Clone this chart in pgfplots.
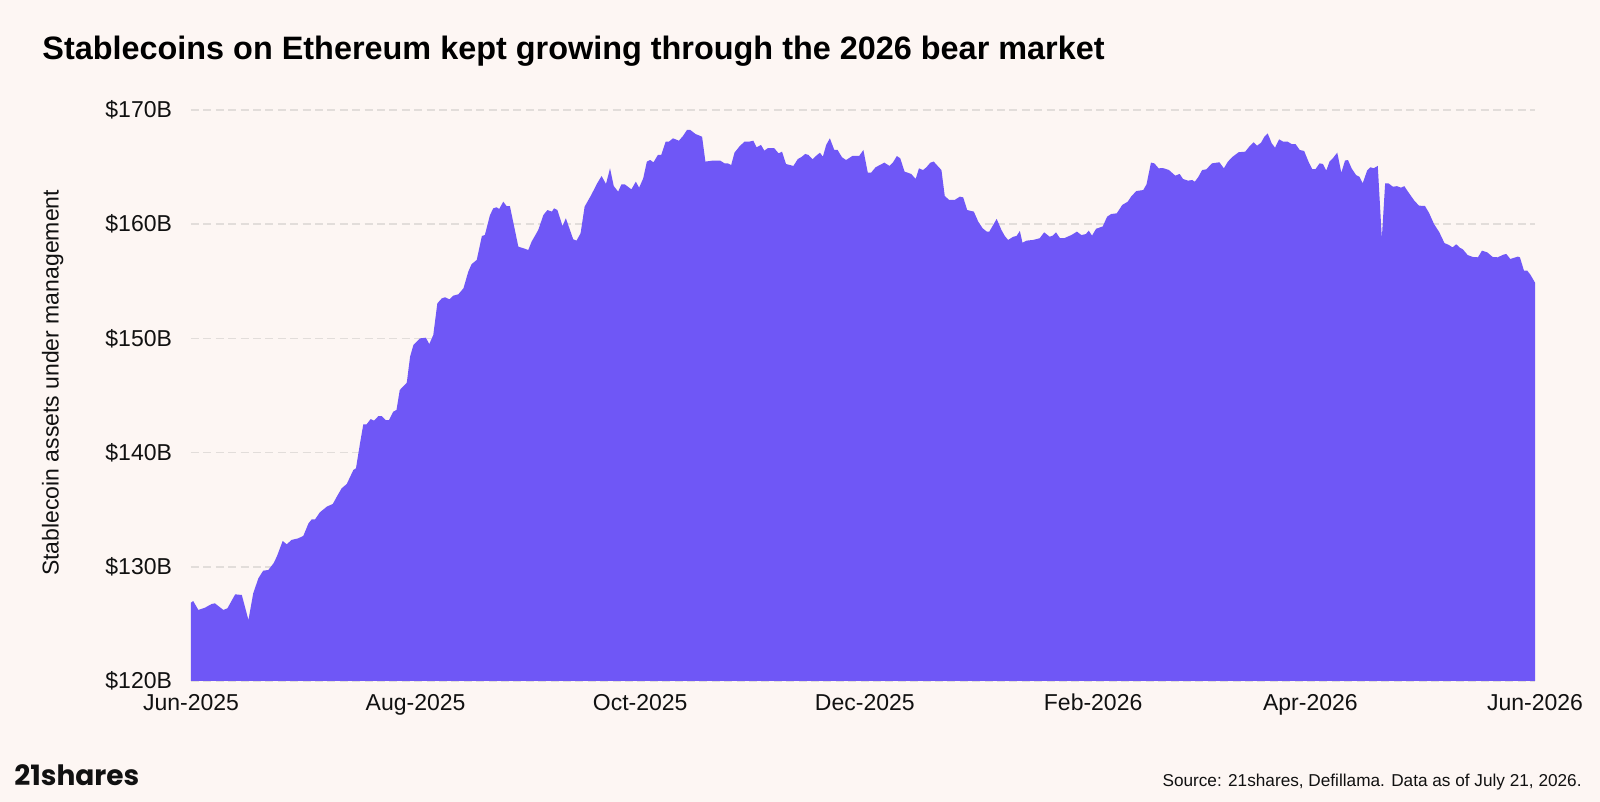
\documentclass[border=0pt]{standalone}
\usepackage{fontspec}
\setmainfont{Liberation Sans}
\newfontfamily\logofont{Poppins}
\usepackage{pgfplots}
\pgfplotsset{compat=1.18}
\definecolor{bgc}{RGB}{253,246,243}
\definecolor{fillc}{RGB}{111,87,246}
\definecolor{gridc}{RGB}{226,221,218}
\definecolor{txt}{RGB}{17,17,17}
\begin{document}
\begin{tikzpicture}
\path[use as bounding box, fill=bgc] (0,0) rectangle (800pt,401pt);
\node[anchor=base west, inner sep=0pt, text=black] at (21pt,371pt) {\fontsize{16.2}{18}\selectfont\bfseries Stablecoins on Ethereum kept growing through the 2026 bear market};
\begin{axis}[
  at={(95.5pt,60.5pt)}, anchor=south west,
  width=672pt, height=285.5pt, scale only axis,
  xmin=0, xmax=365, ymin=120, ymax=170,
  axis line style={draw=none}, tick style={draw=none},
  major tick length=0pt,
  xtick={0,61,122,183,245,304,365},
  xticklabels={Jun-2025,Aug-2025,Oct-2025,Dec-2025,Feb-2026,Apr-2026,Jun-2026},
  ytick={120,130,140,150,160,170},
  yticklabels={\$120B,\$130B,\$140B,\$150B,\$160B,\$170B},
  ymajorgrids,
  grid style={gridc, line width=0.75pt, dash pattern=on 4pt off 2.2pt},
  ticklabel style={font=\fontsize{11.5}{13}\selectfont, text=txt},
  xticklabel style={yshift=-3pt},
  yticklabel style={xshift=-6pt},
  ylabel={Stablecoin assets under management},
  ylabel style={at={(axis description cs:-0.103,0.522)}, anchor=center, rotate=0, font=\fontsize{11.5}{13}\selectfont, text=txt},
  clip=false,
]
\addplot[fill=fillc, draw=none] coordinates {
(0,126.86) (0.6,127.0) (2.0,126.22) (3.8,126.42) (5.6,126.74) (6.5,126.80) (7.4,126.57) (8.8,126.22) (9.9,126.37)
(12.0,127.59) (13.8,127.53) (15.6,125.34) (16.9,127.68) (18.3,128.99) (19.6,129.66) (21.0,129.72) (22.4,130.3)
(23.3,130.89) (24.9,132.26) (26.0,131.97) (27.3,132.35) (29.1,132.49) (30.5,132.7) (31.9,133.8) (32.8,134.16)
(33.7,134.16) (35.0,134.77) (36.9,135.27) (38.5,135.5) (39.6,136.14) (40.9,136.87) (42.3,137.25) (44.1,138.48)
(44.8,138.62) (45.9,140.81) (46.8,142.48) (47.7,142.48) (48.8,142.94) (49.7,142.8) (50.9,143.2) (51.8,143.2)
(52.9,142.85) (53.8,142.85) (54.9,143.58) (55.8,143.73) (56.7,145.48) (58.6,146.12) (59.5,148.4) (60.4,149.42)
(62.2,150.0) (63.8,150.06) (64.7,149.5) (65.8,150.3) (66.9,153.07) (68.1,153.5) (69.0,153.6) (70.2,153.42)
(71.2,153.74) (72.6,153.86) (74.0,154.39) (75.3,155.84) (76.2,156.5) (77.6,156.87) (79.0,158.97) (79.8,159.05)
(81.2,160.8) (82.1,161.39) (83.0,161.48) (83.7,161.33) (84.8,161.97) (85.7,161.59) (86.6,161.59) (88.9,158.03)
(90.3,157.89) (91.6,157.74) (92.5,158.47) (94.3,159.49) (95.7,160.8) (96.8,161.24) (98.0,161.1) (98.6,161.39)
(99.5,161.24) (100.9,159.84) (101.8,160.52) (103.8,158.68) (104.7,158.56) (105.8,159.2) (106.9,161.54) (108.7,162.56)
(110.2,163.52) (111.5,164.22) (112.7,163.52) (113.8,164.89) (114.8,163.35) (116.0,162.85) (116.9,163.49) (117.8,163.49)
(119.6,163.05) (120.8,163.72) (121.7,163.2) (122.8,164.0) (123.8,165.48) (124.7,165.62) (125.6,165.42) (126.8,166.06)
(127.7,166.06) (128.9,167.23) (129.8,167.23) (130.9,167.52) (132.5,167.31) (133.6,167.72) (134.7,168.25) (135.6,168.25)
(137.0,167.9) (138.8,167.66) (139.7,165.48) (141.7,165.57) (143.7,165.57) (144.9,165.33) (145.8,165.33) (146.7,165.18)
(147.6,166.26) (148.9,166.79) (150.3,167.23) (151.6,167.23) (152.7,167.31) (153.6,166.73) (154.8,166.94) (155.7,166.44)
(156.6,166.65) (158.4,166.65) (159.6,166.2) (160.5,166.35) (161.6,165.27) (163.6,165.1) (164.8,165.71) (165.7,165.86)
(166.8,166.15) (167.7,166.06) (168.8,165.68) (169.7,165.97) (170.8,166.26) (171.6,165.91) (172.5,166.94) (173.5,167.52)
(174.7,166.5) (175.6,166.5) (176.8,165.86) (177.9,165.62) (179.7,165.99) (181.5,165.99) (182.6,166.5) (183.8,164.51)
(184.7,164.51) (185.9,164.98) (188.3,165.39) (189.7,165.1) (190.6,165.39) (191.7,165.97) (192.6,165.77) (193.8,164.6)
(195.6,164.4) (196.8,163.96) (197.7,164.89) (198.8,164.74) (199.7,164.98) (200.8,165.39) (201.7,165.48) (203.8,164.74)
(204.7,162.47) (205.9,162.12) (207.4,162.12) (208.8,162.41) (209.7,162.35) (210.8,161.24) (212.6,161.1) (213.8,160.22)
(215.0,159.64) (216.1,159.35) (216.8,159.35) (218.8,160.46) (220.1,159.49) (221.0,158.97) (221.9,158.62) (223.3,158.9)
(224.2,158.97) (225.1,159.41) (225.8,158.38) (226.9,158.56) (228.7,158.62) (230.5,158.77) (231.7,159.29) (233.2,158.9)
(234.0,159.0) (234.9,159.29) (236.0,158.77) (237.1,158.77) (239.1,159.05) (240.6,159.35) (241.8,159.05) (243.0,159.13)
(243.8,159.43) (244.7,159.0) (245.8,159.6) (247.6,159.8) (248.8,160.66) (249.9,160.89) (251.4,160.95) (252.9,161.68)
(254.4,161.97) (255.3,162.41) (256.7,162.9) (258.6,162.99) (259.5,163.49) (260.7,165.39) (261.6,165.33) (262.8,164.89)
(263.9,164.92) (265.6,164.74) (267.3,164.25) (268.5,164.4) (269.4,163.96) (270.8,163.81) (271.9,163.87) (272.6,163.72)
(273.5,164.1) (274.6,164.74) (275.7,164.8) (277.3,165.33) (279.3,165.42) (280.5,164.89) (281.6,165.48) (282.9,165.91)
(284.5,166.3) (286.3,166.35) (287.4,166.79) (288.6,167.17) (289.5,166.87) (290.6,167.14) (291.5,167.66) (292.4,167.95)
(293.5,167.08) (294.4,166.7) (295.5,167.43) (296.6,167.23) (297.8,167.23) (298.9,167.02) (300.0,167.0) (301.1,166.5)
(302.3,166.41) (303.6,165.39) (304.5,164.83) (305.4,164.83) (306.5,165.33) (307.4,165.27) (308.3,164.69) (309.2,165.48)
(310.1,165.77) (311.0,166.15) (311.3,166.26) (312.4,164.51) (313.4,165.57) (314.2,165.62) (315.2,164.89) (316.4,164.3)
(317.3,164.16) (318.2,163.58) (319.4,164.69) (320.3,164.98) (321.2,164.9) (322.3,165.1) (323.4,158.77) (324.3,163.58)
(325.2,163.58) (326.4,163.28) (327.5,163.33) (328.6,163.2) (329.5,163.33) (330.8,162.71) (332.2,162.07) (333.5,161.62)
(335.1,161.6) (336.2,161.0) (337.6,160.0) (339.0,159.3) (340.4,158.35) (341.6,158.18) (342.6,157.97) (343.6,158.24)
(344.6,157.94) (345.4,157.8) (346.7,157.3) (348.1,157.13) (349.5,157.1) (350.6,157.68) (352.0,157.54) (353.5,157.13)
(354.9,157.1) (356.3,157.32) (357.2,157.39) (358.3,156.95) (360.3,157.16) (360.9,157.1) (362.0,155.93) (362.9,155.93)
(363.8,155.55) (365,154.88)
} \closedcycle;
\end{axis}
\node[anchor=base west, inner sep=0pt, text=txt] at (7pt,8.15pt) {\logofont\fontsize{14}{16}\selectfont\bfseries 21shares};
\node[anchor=base east, inner sep=0pt, text=txt] at (791pt,7.65pt) {\fontsize{8.6}{10}\selectfont Source: 21shares, Defillama. Data as of July 21, 2026.};
\end{tikzpicture}
\end{document}
